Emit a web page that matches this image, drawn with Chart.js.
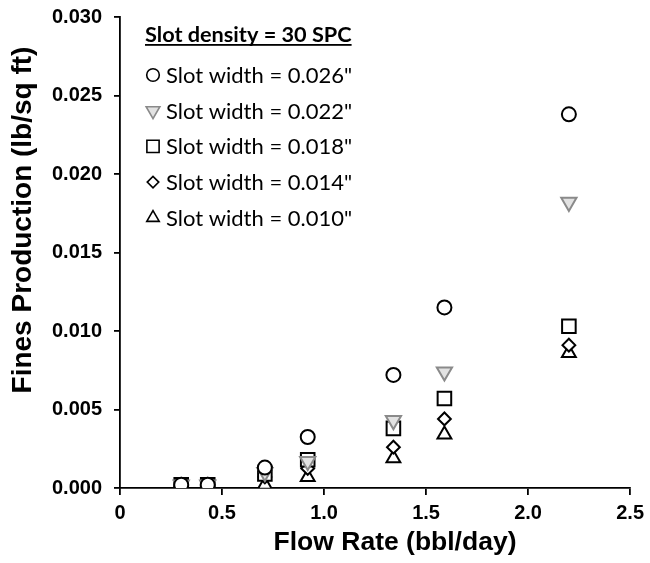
<!DOCTYPE html>
<html>
<head>
<meta charset="utf-8">
<script src="https://cdn.jsdelivr.net/npm/chart.js@4/dist/chart.umd.min.js"></script>
<style>
  body { margin: 0; background: #fff; }
  #wrap { width: 650px; height: 563px; }
</style>
</head>
<body>
<div id="wrap"><canvas id="finesChart" width="650" height="563"></canvas></div>
<script>
// flow rate (bbl/day) shared by every series
var flowRate = [0.30, 0.43, 0.71, 0.92, 1.34, 1.59, 2.20];

// fines production (lb/sq ft) for each slot width
var width026 = [0.0002, 0.0002, 0.0013, 0.00325, 0.0072, 0.0115, 0.0238];
var width022 = [0.0002, 0.0002, 0.0010, 0.0017, 0.0043, 0.0074, 0.0182];
var width018 = [0.0002, 0.0002, 0.0009, 0.0018, 0.0038, 0.0057, 0.0103];
var width014 = [0.0001, 0.0002, 0.0007, 0.00125, 0.0026, 0.0044, 0.0091];
var width010 = [0.0001, 0.0001, 0.0002, 0.0007, 0.0019, 0.0034, 0.0086];

var seriesLabels = ['Slot width = 0.026"', 'Slot width = 0.022"', 'Slot width = 0.018"', 'Slot width = 0.014"', 'Slot width = 0.010"'];
var legendTitle = 'Slot density = 30 SPC';
var xTitle = 'Flow Rate (bbl/day)';
var yTitle = 'Fines Production (lb/sq ft)';

function toPoints(values) {
	var pts = [];
	for (var i = 0; i < flowRate.length; i++) {
		pts.push({x: flowRate[i], y: values[i]});
	}
	return pts;
}

function makeSet(label, values, style, radius, rotation, stroke, fill) {
	return {
		label: label,
		data: toPoints(values),
		pointStyle: style,
		pointRadius: radius,
		pointHoverRadius: radius,
		pointRotation: rotation,
		pointBorderWidth: 2,
		borderColor: stroke,
		backgroundColor: fill,
		showLine: false
	};
}

var datasets = [
	makeSet(seriesLabels[0], width026, 'circle', 7, 0, '#000', '#fff'),
	makeSet(seriesLabels[1], width022, 'triangle', 8.8, 180, '#8a8a8a', '#e2e2e2'),
	makeSet(seriesLabels[2], width018, 'rect', 9.6, 0, '#000', '#fff'),
	makeSet(seriesLabels[3], width014, 'rectRot', 6.4, 0, '#000', '#fff'),
	makeSet(seriesLabels[4], width010, 'triangle', 8, 0, '#000', '#fff')
];

var fontFamily = "'Liberation Sans', Arial, sans-serif";

// axis titles and the legend are drawn by hand so they sit where the original has them
var annotations = {
	id: 'annotations',
	afterDraw: function(chart) {
		var ctx = chart.ctx;
		ctx.save();
		ctx.fillStyle = '#000';
		ctx.textAlign = 'center';
		ctx.textBaseline = 'middle';

		ctx.font = 'bold 26.5px ' + fontFamily;
		ctx.fillText(xTitle, 395, 543);

		ctx.save();
		ctx.translate(23, 220);
		ctx.rotate(-Math.PI / 2);
		ctx.font = 'bold 28px ' + fontFamily;
		ctx.fillText(yTitle, 0, 0);
		ctx.restore();

		// legend box, top left of the plot
		ctx.textAlign = 'left';
		ctx.font = 'bold 21.7px Lato';
		var tx = 145, ty = 35;
		ctx.fillText(legendTitle, tx, ty);
		var tw = ctx.measureText(legendTitle).width;
		ctx.fillRect(tx, ty + 9, tw, 1.8);

		ctx.font = '22px Lato';
		for (var i = 0; i < chart.data.datasets.length; i++) {
			var ds = chart.data.datasets[i];
			var y = 75 + i * 35.7;
			ctx.strokeStyle = ds.borderColor;
			ctx.fillStyle = ds.backgroundColor;
			ctx.lineWidth = 1.6;
			Chart.helpers.drawPoint(ctx, {
				pointStyle: ds.pointStyle,
				rotation: ds.pointRotation,
				radius: ds.pointRadius * 0.9,
				borderWidth: 1.6
			}, 153, y);
			ctx.fillStyle = '#000';
			ctx.fillText(ds.label, 166, y + 1);
		}
		ctx.restore();
	}
};

var axisFont = {family: fontFamily, size: 20, weight: 'bold'};

new Chart(document.getElementById('finesChart'), {
	type: 'scatter',
	data: {datasets: datasets},
	options: {
		responsive: false,
		animation: false,
		layout: {padding: {top: 17, right: 17, left: 0, bottom: 0}},
		plugins: {legend: {display: false}, tooltip: {enabled: false}},
		scales: {
			x: {
				min: 0, max: 2.5,
				ticks: {stepSize: 0.5, color: '#000', font: axisFont, padding: 6},
				grid: {drawOnChartArea: false, drawTicks: true, tickLength: 7, color: '#000', lineWidth: 1.8},
				border: {display: true, color: '#000', width: 1.8},
				afterFit: function(scale) { scale.height = 75; }
			},
			y: {
				min: 0, max: 0.03,
				ticks: {stepSize: 0.005, color: '#000', font: axisFont, padding: 12,
					callback: function(v) { return v.toFixed(3); }},
				grid: {drawOnChartArea: false, drawTicks: true, tickLength: 6, color: '#000', lineWidth: 1.8},
				border: {display: true, color: '#000', width: 1.8},
				afterFit: function(scale) {
					scale.width = 120;
					scale.paddingTop = 0;
					scale.paddingBottom = 0;
				}
			}
		}
	},
	plugins: [annotations]
});
</script>
</body>
</html>
